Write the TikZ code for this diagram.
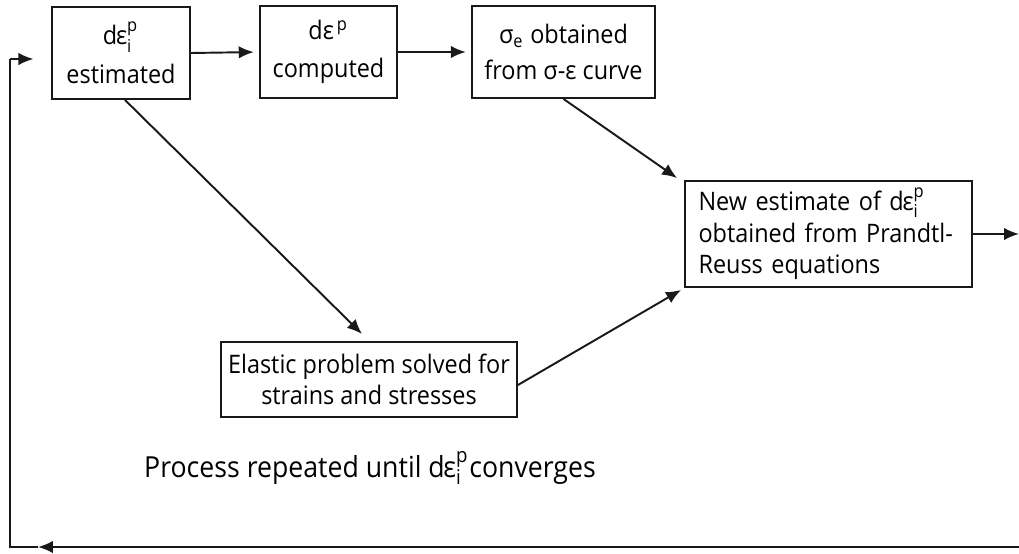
\documentclass[tikz,border=0pt]{standalone}
\usepackage{fontspec}
\setmainfont{Open Sans}[FakeStretch=0.92]
\usepackage{tikz}
\usetikzlibrary{arrows.meta, positioning}

% increment symbol used in several boxes
\newcommand{\depsip}{d\kern-0.05em ε$^{\mathrm{p}}_{\mathrm{i}}$}

\begin{document}
\begin{tikzpicture}[
				x=0.02cm, y=-0.02cm,
				% Defining node styles
				box/.style={rectangle, draw=black!90, line width=1.1pt, align=center, inner sep=1pt, font=\fontsize{14.5}{18}\selectfont},
				connector/.style={-{Latex[length=3mm, width=2.5mm]}, line width=1.1pt, draw=black!90},
				plain/.style={line width=1.1pt, draw=black!90},
				label/.style={font=\fontsize{16.5}{20}\selectfont}
			]
			\useasboundingbox (0,0) rectangle (1019,554);

			% Placing the boxes
			\node[box, minimum width=2.76cm, minimum height=1.84cm] (est) at (121,53) {\depsip\\[4pt]estimated};
			\node[box, minimum width=2.74cm, minimum height=1.84cm] (comp) at (328.5,52) {dε$^{\,\mathrm{p}}$\\[4pt]computed};
			\node[box, minimum width=3.66cm, minimum height=1.84cm] (curve) at (563.5,52) {σ$_{\mathrm{e}}$ obtained\\[2pt]from σ-ε curve};
			\node[box, minimum width=5.74cm, minimum height=2.12cm, text width=5.2cm, align=left] (prandtl) at (828.5,234) {New estimate of \depsip\\obtained from Prandtl-\\Reuss equations};
			\node[box, minimum width=5.92cm, minimum height=1.5cm] (elastic) at (369,379.5) {Elastic problem solved for\\strains and stresses};

			% Loop note
			\node[label] (note) at (370,468) {Process repeated until \depsip converges};

			% Corner points of the return loop
			\coordinate (out) at (1019,234);
			\coordinate (rb) at (1019,547);
			\coordinate (mb) at (38,547);
			\coordinate (lb) at (10,547);
			\coordinate (lt) at (10,59);

			% Drawing connections
			\draw[connector, shorten >=3pt] (est.east) -- (comp.west);
			\draw[connector, shorten >=3pt] (comp.east) -- (curve.west);
			\draw[connector] (est.south) ++(4,0) -- ([shift={(-7,-7)}]elastic.north);
			\draw[connector] (curve.south) -- ([shift={(-7,-2)}]prandtl.north west);
			\draw[connector] (elastic.east) ++(0,5.5) -- ([shift={(-3,2)}]prandtl.south west);
			\draw[connector] (prandtl.east) -- (out);

			% Drawing the return loop
			\draw[connector] (rb) -- (mb);
			\draw[plain] (mb) -- (lb) -- (lt);
			\draw[connector, shorten >=10pt] (lt) -- (est.west |- lt);

		\end{tikzpicture}
\end{document}
